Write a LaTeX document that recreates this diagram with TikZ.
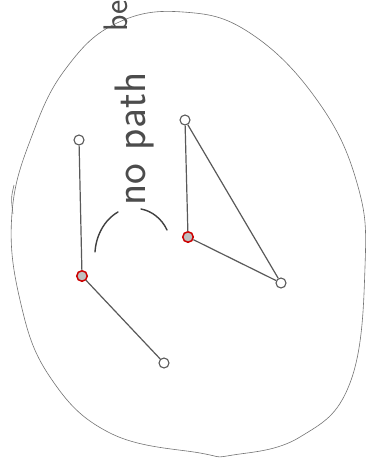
\documentclass[tikz,border=0pt]{standalone}
\begin{document}
\begin{tikzpicture}[x=1pt,y=-1pt,
  pencil/.style={draw=black!55,line width=0.6pt},
  edge/.style={draw=black!65,line width=1.2pt},
  vtx/.style={circle,draw=black!65,line width=1.1pt,fill=white,minimum size=10pt,inner sep=0pt},
  redvtx/.style={circle,draw=red!80!black,line width=1.5pt,fill=black!25,minimum size=10.5pt,inner sep=0pt},
  paren/.style={draw=black!75,line width=1.4pt,line cap=round},
  hand/.style={font=\sffamily\fontsize{44}{44}\selectfont,text=black!70}]
\useasboundingbox (0,0) rectangle (374,472);
\clip (0,0) rectangle (374,472);
% big closed curve
\draw[pencil] plot[smooth cycle,tension=0.7] coordinates {
 (183,12) (250,33) (317,100) (357,183) (365,267) (350,383) (300,437)
 (233,455) (200,453) (110,433) (50,377) (20,300) (12,213) (33,133) (67,67) (117,23)};
\draw[pencil] (14,185) .. controls (11,198) .. (13,214);
% texts
\node[hand,rotate=90,anchor=base west,inner sep=0pt] (np) at (145,206) {no path};
\node[hand,rotate=90,anchor=base west,inner sep=0pt,font=\sffamily\fontsize{34}{34}\selectfont] (be) at (127,32) {be};
% vertices
\node[vtx] (a) at (79,140) {};
\node[redvtx] (b) at (82,276) {};
\node[vtx] (c) at (164,363) {};
\node[vtx] (d) at (185,120) {};
\node[redvtx] (e) at (188,237) {};
\node[vtx] (f) at (281,283) {};
% edges
\draw[edge] (a) -- (b);
\draw[edge] (b) -- (c);
\draw[edge] (d) -- (e);
\draw[edge] (e) -- (f);
\draw[edge] (d) -- (f);
% parentheses
\coordinate (lp1) at (118,212);
\coordinate (lp2) at (95,252);
\coordinate (rp1) at (141,209);
\coordinate (rp2) at (167,230);
\draw[paren] (lp1) .. controls (104,220) and (96,236) .. (lp2);
\draw[paren] (rp1) .. controls (152,211) and (162,219) .. (rp2);
\end{tikzpicture}
\end{document}
